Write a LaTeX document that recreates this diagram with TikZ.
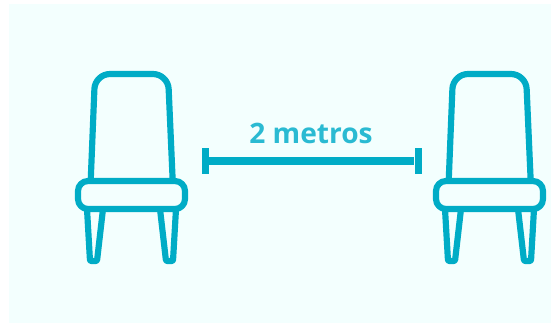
\documentclass[tikz,border=0pt]{standalone}
\usepackage{fontspec}
\newfontfamily\distfont{Open Sans}
\usetikzlibrary{positioning}
\definecolor{pageFill}{HTML}{F3FFFE}
\definecolor{chairBorder}{HTML}{00ACC6}
\definecolor{labelText}{HTML}{2ABAD2}
\begin{document}
\begin{tikzpicture}[
    x=0.03cm, y=-0.03cm,
    chairline/.style={draw=chairBorder, line width=0.185cm, line join=round},
    barend/.style={rectangle, fill=chairBorder, inner sep=0pt,
        minimum width=0.21cm, minimum height=0.78cm},
    barline/.style={draw=chairBorder, line width=0.25cm},
    distlabel/.style={text=labelText, font=\distfont\bfseries\fontsize{24pt}{24pt}\selectfont}
]
  \useasboundingbox (0,0) rectangle (551,323);
  \fill[white] (0,0) rectangle (551,323);
  \fill[pageFill] (9,4) rectangle (551,323);

  % Both chairs, the right one is shifted by 358
  \foreach \dx in {0,358} {
    \begin{scope}[xshift=\dx*0.03cm]
      % back
      \draw[chairline, rounded corners=15*0.03cm]
          (90.7,181) -- (95,74) -- (168,74) -- (172.7,181);
      % seat
      \draw[chairline, rounded corners=10*0.03cm]
          (78,181) rectangle (185,209);
      % legs
      \draw[chairline, rounded corners=1*0.03cm]
          (87,209) -- (90,261) -- (97,261) -- (103,209);
      \draw[chairline, rounded corners=1*0.03cm]
          (160,209) -- (166,261) -- (173,261) -- (176,209);
    \end{scope}
  }

  % Distance bar
  \node[barend] (barL) at (205,161) {};
  \node[barend] (barR) at (418,161) {};
  \draw[barline] (barL) -- (barR);
  \node[distlabel] (dist) at (311,133) {2 metros};
\end{tikzpicture}
\end{document}
